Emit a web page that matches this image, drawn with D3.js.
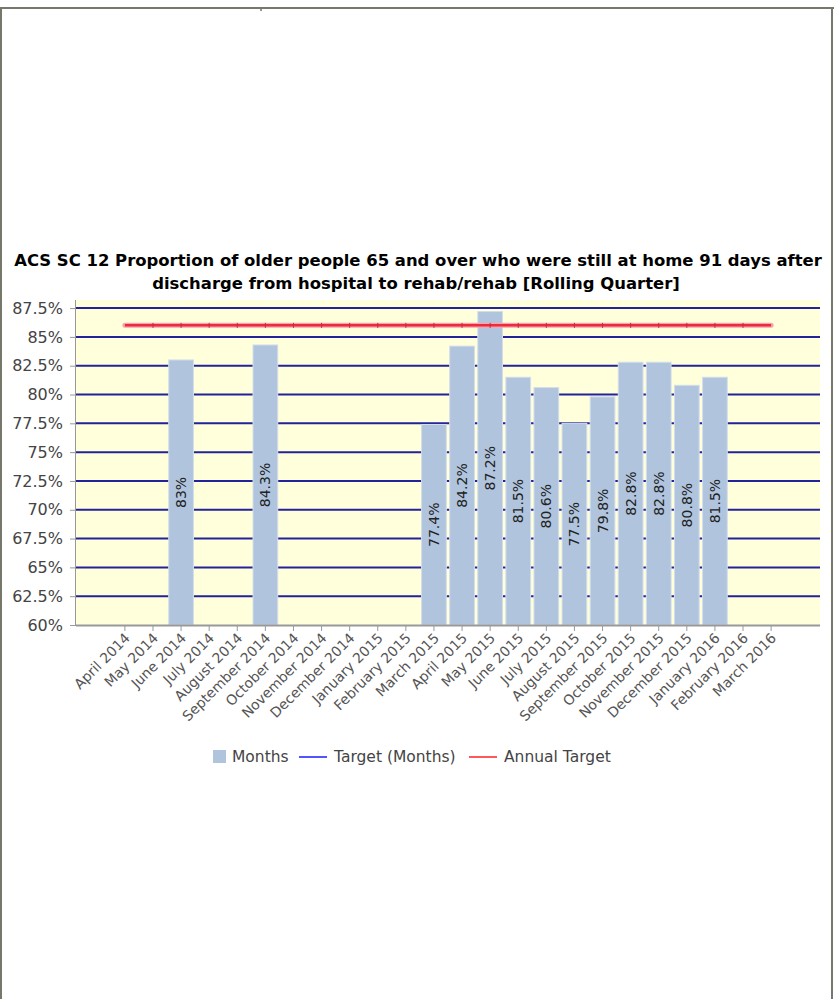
<!DOCTYPE html>
<html>
<head>
<meta charset="utf-8">
<script src="https://cdn.jsdelivr.net/npm/d3@7"></script>
<style>
  html, body { margin: 0; padding: 0; background: #fff; }
  svg { display: block; }
  text { font-family: "DejaVu Sans", Verdana, sans-serif; }
</style>
</head>
<body>
<svg id="chart" width="835" height="999"></svg>
<script>
// Months on the category axis
const months = [
  "April 2014", "May 2014", "June 2014", "July 2014", "August 2014",
  "September 2014", "October 2014", "November 2014", "December 2014",
  "January 2015", "February 2015", "March 2015", "April 2015", "May 2015",
  "June 2015", "July 2015", "August 2015", "September 2015", "October 2015",
  "November 2015", "December 2015", "January 2016", "February 2016", "March 2016"
];
// Rolling-quarter percentage per month (null = no data)
const monthValues = [
  null, null, 83, null, null, 84.3, null, null, null, null, null, 77.4,
  84.2, 87.2, 81.5, 80.6, 77.5, 79.8, 82.8, 82.8, 80.8, 81.5, null, null
];
const annualTarget = 86;
const yTicks = [60, 62.5, 65, 67.5, 70, 72.5, 75, 77.5, 80, 82.5, 85, 87.5];
const titleLines = [
  "ACS SC 12 Proportion of older people 65 and over who were still at home 91 days after",
  "discharge from hospital to rehab/rehab [Rolling Quarter]"
];
const legendItems = [
  { label: "Months", kind: "box", color: "#b0c4de" },
  { label: "Target (Months)", kind: "line", color: "#1a1aff" },
  { label: "Annual Target", kind: "line", color: "#ff2020" }
];

const svg = d3.select("#chart");
const plot = { left: 76, right: 820, top: 300, bottom: 625 };

// Outer frame
const frame = svg.append("g").attr("stroke", "#76786b").attr("stroke-width", 2).attr("fill", "none");
frame.append("line").attr("x1", 0).attr("x2", 834).attr("y1", 8).attr("y2", 8);
frame.append("line").attr("x1", 1).attr("x2", 1).attr("y1", 7).attr("y2", 999);
frame.append("line").attr("x1", 832).attr("x2", 832).attr("y1", 7).attr("y2", 999);
frame.append("line").attr("x1", 261).attr("x2", 261).attr("y1", 8).attr("y2", 11).attr("stroke-width", 1.5);

// Title
const title = svg.append("text")
  .attr("text-anchor", "middle")
  .attr("font-weight", "bold")
  .attr("font-size", 15)
  .attr("fill", "#000");
title.append("tspan").attr("x", 418).attr("y", 266).text(titleLines[0]);
title.append("tspan").attr("x", 416).attr("y", 289).text(titleLines[1]);
// scale the title so its first line spans the chart width
const firstLen = title.select("tspan").node().getComputedTextLength();
title.attr("font-size", 15 * 808 / firstLen);

// Scales
const x = d3.scaleBand().domain(months)
  .range([plot.left, plot.right]).paddingInner(0.12).paddingOuter(1.3);
const y = d3.scaleLinear().domain([60, 88.2]).range([plot.bottom, plot.top]);

// Plot background
svg.append("rect")
  .attr("x", plot.left).attr("y", plot.top)
  .attr("width", plot.right - plot.left).attr("height", plot.bottom - plot.top)
  .attr("fill", "#ffffdc");

// Gridlines
svg.append("g").selectAll("line")
  .data(yTicks.filter(t => t > 60))
  .join("line")
  .attr("x1", plot.left).attr("x2", plot.right)
  .attr("y1", d => y(d)).attr("y2", d => y(d))
  .attr("stroke", "#22229a").attr("stroke-width", 2);

// Bars
const barData = months.map((m, i) => ({ m, v: monthValues[i] })).filter(d => d.v != null);
svg.append("g").selectAll("rect")
  .data(barData)
  .join("rect")
  .attr("x", d => x(d.m)).attr("width", x.bandwidth())
  .attr("y", d => y(d.v)).attr("height", d => y(60) - y(d.v))
  .attr("fill", "#b0c4de")
  .attr("stroke", "#d4deea").attr("stroke-width", 1);

// Annual target line
const cx = m => x(m) + x.bandwidth() / 2;
const tgt = svg.append("g");
tgt.append("line")
  .attr("x1", cx(months[0])).attr("x2", cx(months[months.length - 1]))
  .attr("y1", y(annualTarget)).attr("y2", y(annualTarget))
  .attr("stroke", "#f7a3ad").attr("stroke-width", 5).attr("stroke-linecap", "round");
tgt.append("line")
  .attr("x1", cx(months[0])).attr("x2", cx(months[months.length - 1]))
  .attr("y1", y(annualTarget)).attr("y2", y(annualTarget))
  .attr("stroke", "#ee2a3e").attr("stroke-width", 2.5);
tgt.selectAll("line.mk")
  .data(months.slice(1, -1))
  .join("line").attr("class", "mk")
  .attr("x1", d => cx(d)).attr("x2", d => cx(d))
  .attr("y1", y(annualTarget) - 2.5).attr("y2", y(annualTarget) + 2.5)
  .attr("stroke", "#c8283a").attr("stroke-width", 1);

// Bar value labels
svg.append("g").selectAll("text")
  .data(barData)
  .join("text")
  .attr("transform", d => `translate(${cx(d.m) + 5},${(y(d.v) + y(60)) / 2}) rotate(-90)`)
  .attr("text-anchor", "middle")
  .attr("font-size", 14)
  .attr("fill", "#222")
  .text(d => d.v + "%");

// Y axis
const yAxis = svg.append("g")
  .attr("transform", `translate(${plot.left},0)`)
  .call(d3.axisLeft(y).tickValues(yTicks).tickSize(6).tickPadding(7).tickFormat(d => d + "%"));
yAxis.select(".domain").attr("stroke", "#999").attr("d", `M-0.5,${plot.top}V${plot.bottom}`);
yAxis.selectAll(".tick line").attr("stroke", "#999");
yAxis.selectAll(".tick text").attr("font-size", 16).attr("fill", "#444")
  .attr("font-family", "DejaVu Sans, sans-serif");

// X axis
const xAxis = svg.append("g")
  .attr("transform", `translate(0,${plot.bottom})`)
  .call(d3.axisBottom(x).tickSize(6).tickSizeOuter(0));
xAxis.select(".domain").attr("stroke", "#999").attr("stroke-width", 2)
  .attr("d", `M${plot.left},0.5H${plot.right}`);
xAxis.selectAll(".tick line").attr("stroke", "#999");
xAxis.selectAll(".tick text")
  .attr("font-size", 14).attr("fill", "#555")
  .attr("font-family", "DejaVu Sans, sans-serif")
  .attr("text-anchor", "end")
  .attr("dy", null).attr("y", null)
  .attr("transform", "translate(6,14) rotate(-45)");

// Legend
const legend = svg.append("g").attr("transform", "translate(0,757)");
const pos = [213, 299, 469];
legendItems.forEach((it, i) => {
  const g = legend.append("g").attr("transform", `translate(${pos[i]},0)`);
  if (it.kind === "box") {
    g.append("rect").attr("x", 0).attr("y", -7).attr("width", 13).attr("height", 13).attr("fill", it.color);
    g.append("text").attr("x", 19).attr("y", 0).attr("dy", "0.35em")
      .attr("font-size", 15.5).attr("fill", "#444").text(it.label);
  } else {
    g.append("line").attr("x1", 0).attr("x2", 28).attr("y1", 0).attr("y2", 0)
      .attr("stroke", it.color).attr("stroke-width", 1.5);
    g.append("text").attr("x", 35).attr("y", 0).attr("dy", "0.35em")
      .attr("font-size", 15.5).attr("fill", "#444").text(it.label);
  }
});
</script>
</body>
</html>
